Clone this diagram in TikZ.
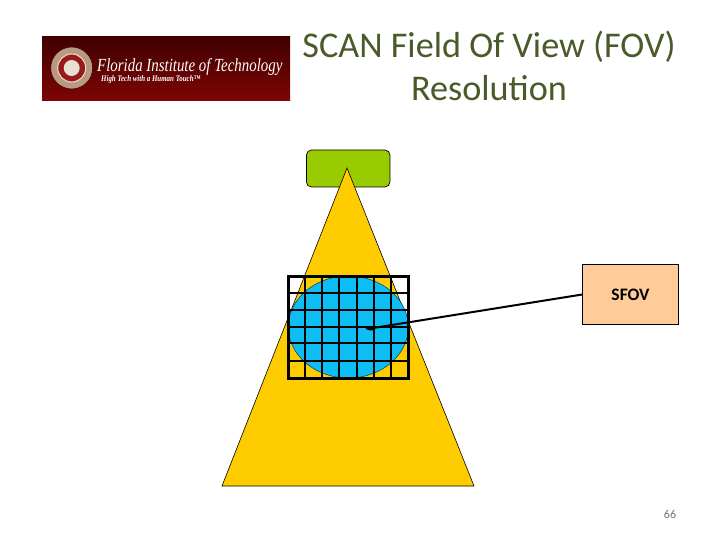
\documentclass[tikz,border=0pt]{standalone}
\usepackage{fontspec}
\setmainfont{Carlito}
\newfontfamily\logofont[FakeStretch=0.805]{Liberation Serif}
\usetikzlibrary{shapes.geometric}
\definecolor{titlecol}{HTML}{4A5A28}
\definecolor{logotop}{HTML}{3F0000}
\definecolor{logobot}{HTML}{7E0505}
\definecolor{beamcol}{HTML}{FFCC00}
\definecolor{tubecol}{HTML}{99CC00}
\definecolor{fovcol}{HTML}{0FBDF5}
\definecolor{labelcol}{HTML}{FFCC99}
\definecolor{sealtan}{HTML}{B89A80}
\definecolor{sealred}{HTML}{9A1A1A}
\definecolor{sealface}{HTML}{E8E0D0}
\tikzset{
  gridline/.style={line width=1.8pt,black},
  gridframe/.style={line width=3pt,black},
  titletext/.style={font=\fontsize{36.2}{43}\selectfont,text=titlecol,align=center,inner sep=0pt},
  logomain/.style={font=\logofont\itshape\fontsize{18.5}{20}\selectfont,text=white,inner sep=0pt,anchor=west},
  logosub/.style={font=\logofont\itshape\bfseries\fontsize{8.6}{10}\selectfont,text=white,inner sep=0pt,anchor=west},
}
\begin{document}
\begin{tikzpicture}[x=1pt,y=-1pt]
\useasboundingbox (0,0) rectangle (720,540);
\fill[white] (0,0) rectangle (720,540);
% logo
\node[minimum width=248pt,minimum height=64pt,inner sep=0pt,anchor=north west,rectangle,top color=logotop,bottom color=logobot,draw=none] (logo) at (42,36) {};
\node[circle,fill=sealtan,draw=logotop,line width=0.6pt,minimum size=42pt,inner sep=0pt] (sealouter) at (71.7,68) {};
\node[circle,fill=sealred,draw=sealface,line width=1pt,minimum size=28pt,inner sep=0pt] (sealmid) at (sealouter.center) {};
\node[circle,fill=sealface,minimum size=16pt,inner sep=0pt] (sealinner) at (sealouter.center) {};
\node[logomain] (logotext) at (97,66.5) {Florida Institute of Technology};
\node[logosub] (logotag) at (101,79.5) {High Tech with a Human Touch™};
% title
\node[titletext] (title) at (489,66) {SCAN Field Of View (FOV)\\Resolution};
% tube
\node[rectangle,rounded corners=5pt,fill=tubecol,draw=black,line width=0.7pt,minimum width=83.5pt,minimum height=37pt,inner sep=0pt] (tube) at (348.2,168.5) {};
% beam
\coordinate (apex) at (347,168);
\coordinate (bl) at (222,486);
\coordinate (br) at (474,486);
\fill[beamcol,draw=black,line width=0.6pt,line join=miter] (apex) -- (br) -- (bl) -- cycle;
% FOV circle
\node[ellipse,fill=fovcol,draw=black!60!fovcol,line width=0.6pt,minimum width=120pt,minimum height=102pt,inner sep=0pt] (fov) at (348.3,327) {};
% grid
\foreach \x in {305,322.3,339.3,356.7,374,391}
  \draw[gridline] (\x,276) -- (\x,378);
\foreach \y in {292.7,310,326.7,343.3,360.7}
  \draw[gridline] (288.3,\y) -- (408.3,\y);
\draw[gridframe] (288.3,276) rectangle (408.3,378);
% label
\node[rectangle,fill=labelcol,draw=black,line width=0.7pt,minimum width=96pt,minimum height=60pt,inner sep=0pt,font=\bfseries\fontsize{17.5}{20}\selectfont] (sfov) at (630.5,294.5) {SFOV};
\node[ellipse,fill=black,minimum width=9pt,minimum height=4pt,inner sep=0pt,rotate=-8] (dot) at (370,328.5) {};
\draw[line width=2pt] (sfov.west) -- (dot.center);
% page number
\node[font=\fontsize{12}{14}\selectfont,text=black!55,inner sep=0pt] (page) at (670,514.5) {66};
\end{tikzpicture}
\end{document}
